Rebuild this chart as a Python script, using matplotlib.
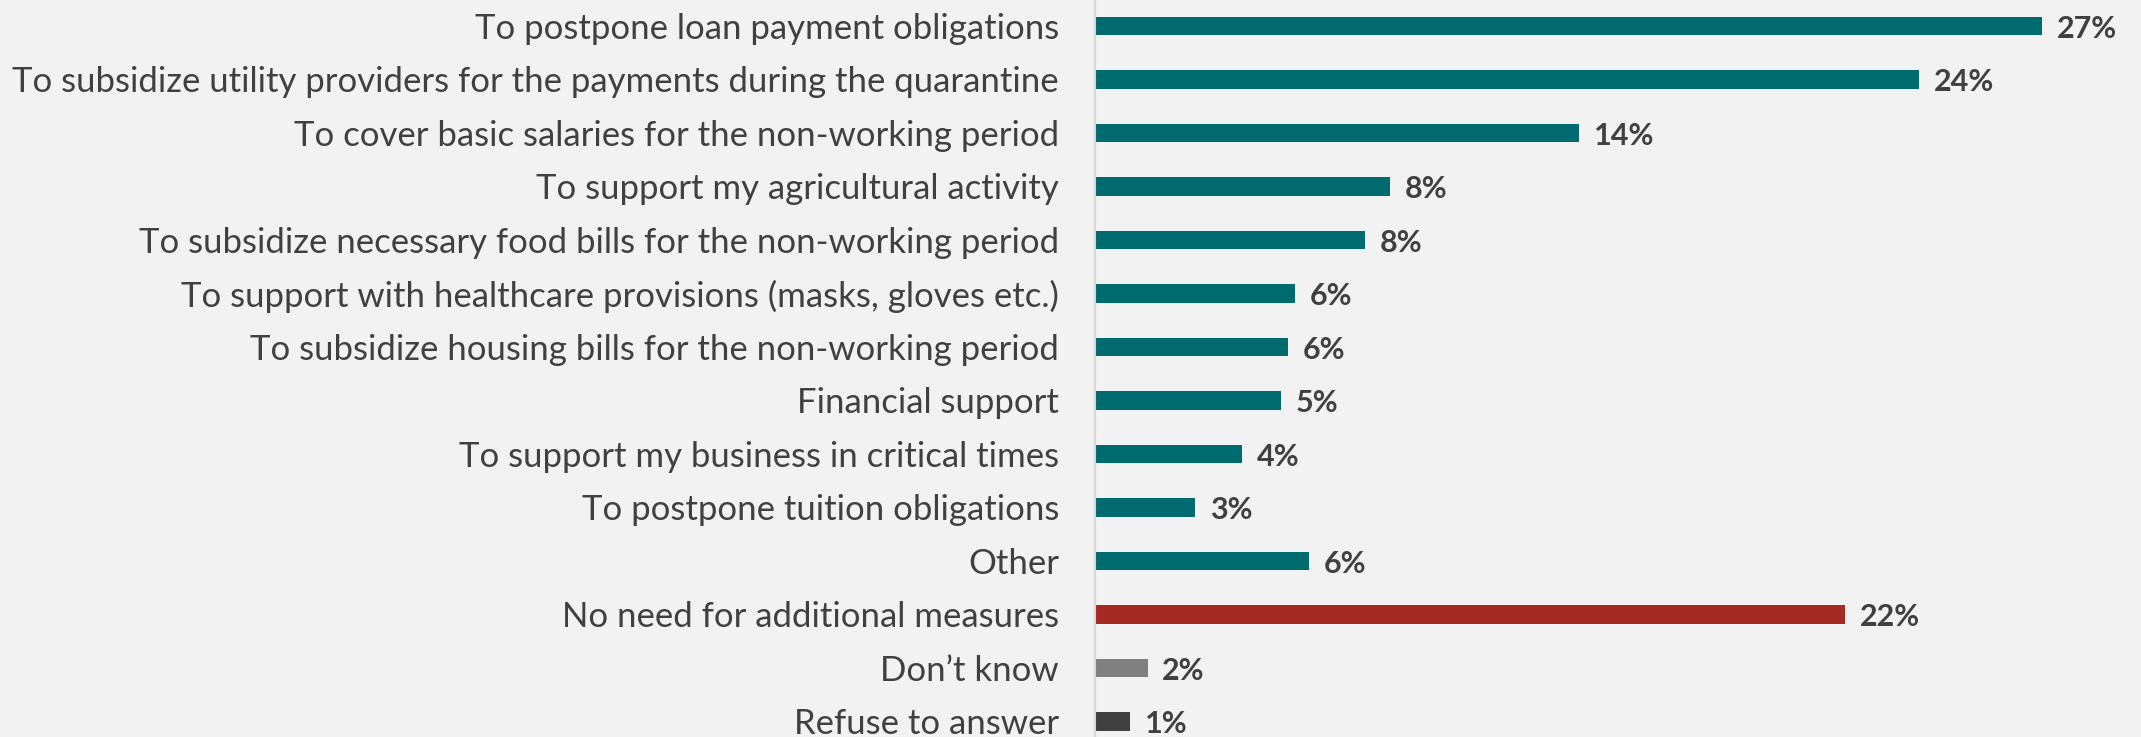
import matplotlib.pyplot as plt

categories = [
    "To postpone loan payment obligations",
    "To subsidize utility providers for the payments during the quarantine",
    "To cover basic salaries for the non-working period",
    "To support my agricultural activity",
    "To subsidize necessary food bills for the non-working period",
    "To support with healthcare provisions (masks, gloves etc.)",
    "To subsidize housing bills for the non-working period",
    "Financial support",
    "To support my business in critical times",
    "To postpone tuition obligations",
    "Other",
    "No need for additional measures",
    "Don\u2019t know",
    "Refuse to answer",
]
values = [27.0, 23.5, 13.8, 8.4, 7.7, 5.7, 5.5, 5.3, 4.2, 2.85, 6.1, 21.4, 1.5, 1.0]
labels = ["27%", "24%", "14%", "8%", "8%", "6%", "6%", "5%", "4%", "3%", "6%", "22%", "2%", "1%"]

teal = "#006B6E"
colors = [teal] * 11 + ["#A52A22", "#808080", "#404040"]

bg = "#F2F2F2"
txt = "#404040"

fig = plt.figure(figsize=(21.41, 7.37), dpi=100, facecolor=bg)
ax = fig.add_axes([1095 / 2141, 0, 1 - 1095 / 2141, 1])
ax.set_facecolor(bg)

y = list(range(len(categories)))
ax.barh(y, values, height=0.35, color=colors)

for yi, v, lab in zip(y, values, labels):
    ax.text(v + 0.42, yi + 0.05, lab, va="center", ha="left", fontsize=22,
            fontweight="bold", color=txt, family="Lato")

ax.set_xlim(0, 29.83)
ax.set_ylim(13.29, -0.486)
ax.set_yticks(y)
ax.set_yticklabels(categories, fontsize=25, color=txt, family="Lato")
ax.tick_params(axis="y", length=0, pad=26)
ax.set_xticks([])
for s in ["top", "right", "bottom"]:
    ax.spines[s].set_visible(False)
ax.spines["left"].set_color("#D9D9D9")
ax.spines["left"].set_linewidth(1.5)

fig.savefig("out.png", facecolor=bg)
